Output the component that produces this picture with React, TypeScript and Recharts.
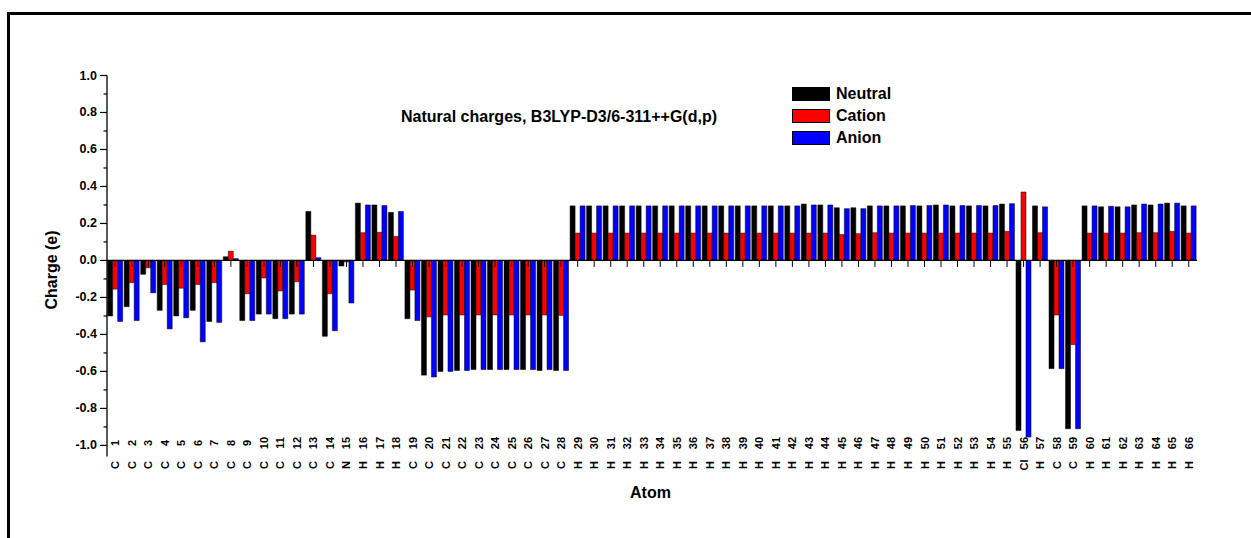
import React from 'react';
import { BarChart, Bar, XAxis, YAxis, ReferenceLine } from 'recharts';

const atomNumbers = [
  '1','2','3','4','5','6','7','8','9','10','11','12','13','14','15','16','17','18','19','20','21','22',
  '23','24','25','26','27','28','29','30','31','32','33','34','35','36','37','38','39','40','41','42','43','44',
  '45','46','47','48','49','50','51','52','53','54','55','56','57','58','59','60','61','62','63','64','65','66',
];

const atomElements = [
  'C','C','C','C','C','C','C','C','C','C','C','C','C','C','N','H','H','H','C','C','C','C',
  'C','C','C','C','C','C','H','H','H','H','H','H','H','H','H','H','H','H','H','H','H','H',
  'H','H','H','H','H','H','H','H','H','H','H','Cl','H','C','C','H','H','H','H','H','H','H',
];

const neutral = [
  -0.30, -0.25, -0.075, -0.27, -0.30, -0.27, -0.33, 0.02, -0.325, -0.29, -0.315, -0.29, 0.265, -0.41, -0.03, 0.31, 0.30, 0.26, -0.315, -0.62, -0.60, -0.595,
  -0.59, -0.59, -0.59, -0.59, -0.595, -0.595, 0.295, 0.295, 0.295, 0.295, 0.295, 0.295, 0.295, 0.295, 0.295, 0.295, 0.295, 0.295, 0.295, 0.295, 0.305, 0.30,
  0.285, 0.285, 0.295, 0.295, 0.295, 0.295, 0.30, 0.295, 0.295, 0.295, 0.305, -0.92, 0.295, -0.585, -0.91, 0.295, 0.29, 0.29, 0.30, 0.30, 0.31, 0.295,
];

const cation = [
  -0.155, -0.12, -0.04, -0.13, -0.15, -0.13, -0.12, 0.05, -0.18, -0.095, -0.165, -0.115, 0.137, -0.18, -0.008, 0.15, 0.152, 0.13, -0.16, -0.305, -0.295, -0.295,
  -0.295, -0.295, -0.295, -0.295, -0.295, -0.297, 0.148, 0.148, 0.148, 0.148, 0.148, 0.148, 0.148, 0.148, 0.148, 0.148, 0.148, 0.148, 0.148, 0.148, 0.148, 0.148,
  0.14, 0.145, 0.15, 0.148, 0.148, 0.148, 0.148, 0.148, 0.148, 0.148, 0.157, 0.37, 0.15, -0.295, -0.455, 0.148, 0.148, 0.148, 0.15, 0.15, 0.157, 0.148,
];

const anion = [
  -0.33, -0.325, -0.175, -0.37, -0.31, -0.44, -0.335, 0.01, -0.325, -0.29, -0.315, -0.29, 0.015, -0.38, -0.23, 0.30, 0.297, 0.265, -0.325, -0.63, -0.60, -0.595,
  -0.59, -0.59, -0.59, -0.59, -0.59, -0.595, 0.295, 0.295, 0.295, 0.295, 0.295, 0.295, 0.295, 0.295, 0.295, 0.295, 0.295, 0.295, 0.295, 0.295, 0.30, 0.30,
  0.28, 0.28, 0.295, 0.295, 0.297, 0.297, 0.30, 0.297, 0.297, 0.297, 0.307, -0.955, 0.29, -0.585, -0.91, 0.295, 0.293, 0.29, 0.305, 0.305, 0.31, 0.295,
];

const yTicks = [1.0, 0.9, 0.8, 0.7, 0.6, 0.5, 0.4, 0.3, 0.2, 0.1, 0.0, -0.1, -0.2, -0.3, -0.4, -0.5, -0.6, -0.7, -0.8, -0.9, -1.0];

const series = [
  { key: 'neutral', name: 'Neutral', color: '#000000' },
  { key: 'cation', name: 'Cation', color: '#ff0000' },
  { key: 'anion', name: 'Anion', color: '#0000ff' },
];

const titleText = 'Natural charges, B3LYP-D3/6-311++G(d,p)';
const xTitle = 'Atom';
const yTitle = 'Charge (e)';

const data = atomNumbers.map((num, i) => ({
  num,
  el: atomElements[i],
  neutral: neutral[i],
  cation: cation[i],
  anion: anion[i],
}));

const FONT = '"Liberation Sans", Arial, Helvetica, sans-serif';

const YTick = (props: any) => {
  const { x, y, payload } = props;
  const v = Number(payload.value);
  const major = Math.round(Math.abs(v) * 10) % 2 === 0;
  return (
    <g>
      <line x1={x} x2={x - (major ? 7 : 3.5)} y1={y} y2={y} stroke="#000" strokeWidth={1.2} />
      {major && (
        <text
          x={x - 10}
          y={y}
          textAnchor="end"
          dominantBaseline="central"
          fontSize={12.5}
          fontWeight="bold"
          fontFamily={FONT}
          fill="#000"
        >
          {v.toFixed(1)}
        </text>
      )}
    </g>
  );
};

const XTick = (props: any) => {
  const { x, y, payload, index } = props;
  const row = data.find((d) => d.num === payload.value);
  const el = row ? row.el : atomElements[index] ?? '';
  return (
    <g>
      <text
        transform={`translate(${x},${y - 13.5}) rotate(-90)`}
        textAnchor="middle"
        dominantBaseline="central"
        fontSize={11}
        fontWeight="bold"
        fontFamily={FONT}
        fill="#000"
      >
        {payload.value}
      </text>
      <text
        transform={`translate(${x},${y + 8.5}) rotate(-90)`}
        textAnchor="middle"
        dominantBaseline="central"
        fontSize={11}
        fontWeight="bold"
        fontFamily={FONT}
        fill="#000"
      >
        {el}
      </text>
    </g>
  );
};

const LegendBox = () => (
  <div style={{ position: 'absolute', left: 792, top: 83, fontFamily: FONT }}>
    {series.map((s) => (
      <div key={s.key} style={{ display: 'flex', alignItems: 'center', height: 22 }}>
        <div
          style={{
            width: 38,
            height: 14,
            background: s.color,
            border: '1px solid #000',
            boxSizing: 'border-box',
          }}
        />
        <span
          style={{
            marginLeft: 6,
            fontSize: 16,
            fontWeight: 'bold',
            lineHeight: '22px',
            color: '#000',
            whiteSpace: 'nowrap',
          }}
        >
          {s.name}
        </span>
      </div>
    ))}
  </div>
);

export default function App() {
  return (
    <div style={{ position: 'absolute', left: 0, top: 0, width: 1251, height: 538, overflow: 'hidden', background: '#fff' }}>
      <div
        style={{
          position: 'absolute',
          left: 7,
          top: 12,
          width: 1244,
          height: 526,
          borderTop: '3px solid #000',
          borderLeft: '3px solid #000',
          boxSizing: 'border-box',
        }}
      />
      <div style={{ position: 'absolute', left: 0, top: 0 }}>
        <BarChart
          width={1251}
          height={538}
          data={data}
          margin={{ top: 75.5, right: 54, bottom: 41.5, left: 47 }}
          barGap={0}
          barCategoryGap="4%"
        >
          <XAxis
            dataKey="num"
            interval={0}
            tick={<XTick />}
            tickLine={false}
            axisLine={false}
            tickSize={0}
            tickMargin={0}
            height={40}
          />
          <YAxis
            type="number"
            domain={[-1.06, 1]}
            ticks={yTicks}
            interval={0}
            tick={<YTick />}
            tickLine={false}
            tickSize={0}
            tickMargin={0}
            axisLine={{ stroke: '#000', strokeWidth: 1.3 }}
            width={60}
          />
          {series.map((s) => (
            <Bar
              key={s.key}
              dataKey={s.key}
              name={s.name}
              fill={s.color}
              stroke="#000"
              strokeWidth={0.5}
              isAnimationActive={false}
            />
          ))}
          <ReferenceLine y={0} stroke="#000" strokeWidth={1.3} />
          {atomNumbers.map((n) => (
            <ReferenceLine
              key={`t${n}`}
              segment={[
                { x: n, y: 0 },
                { x: n, y: -0.035 },
              ]}
              stroke="#000"
              strokeWidth={1}
              ifOverflow="visible"
            />
          ))}
        </BarChart>
      </div>
      <LegendBox />
      <svg width={1251} height={538} style={{ position: 'absolute', left: 0, top: 0, pointerEvents: 'none' }}>
        <text x={401} y={122} fontSize={16} fontWeight="bold" fontFamily={FONT} fill="#000">
          {titleText}
        </text>
        <text x={650.5} y={498} textAnchor="middle" fontSize={16} fontWeight="bold" fontFamily={FONT} fill="#000">
          {xTitle}
        </text>
        <text
          transform="translate(57,270) rotate(-90)"
          textAnchor="middle"
          fontSize={16}
          fontWeight="bold"
          fontFamily={FONT}
          fill="#000"
        >
          {yTitle}
        </text>
      </svg>
    </div>
  );
}
